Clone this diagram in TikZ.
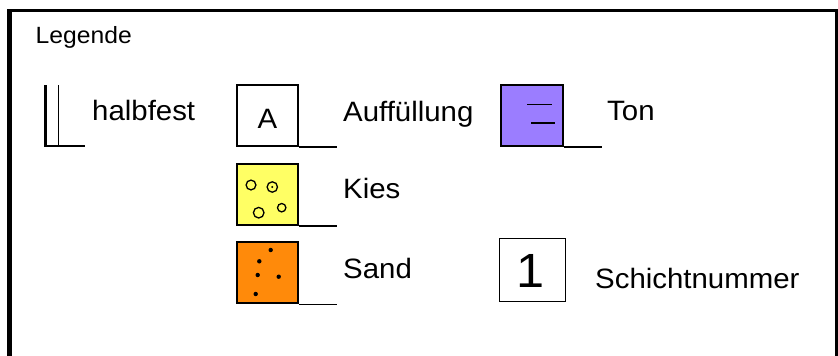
\documentclass[tikz,border=0pt]{standalone}
\usepackage{fontspec}
\setmainfont{Liberation Sans}[FakeStretch=1.05]
\usetikzlibrary{positioning,calc}
\definecolor{tonviolet}{RGB}{155,125,255}
\definecolor{kiesyellow}{RGB}{255,255,100}
\definecolor{sandorange}{RGB}{255,138,10}
\tikzset{
    lbl/.style={anchor=base west, inner sep=0pt, font=\fontsize{28}{34}\selectfont},
    soilbox/.style={draw, rectangle, line width=2pt, inner sep=0pt, minimum width=61.6pt, minimum height=61pt}
}

\begin{document}
\begin{tikzpicture}[x=1pt, y=-1pt]
    \useasboundingbox (0,0) rectangle (838,356);
    % frame
    \draw[line width=3pt] (9.5,356) |- (836.5,10.5);
    \draw[line width=5pt] (9.5,9) -- (9.5,356);
    \draw[line width=2.5pt] (836.7,9) -- (836.7,356);
    \node[anchor=base west, inner sep=0pt, font=\fontsize{23.5}{28}\selectfont] (legende) at (35.5,43) {Legende};

    % halbfest
    \draw[line width=2.5pt] (45.5,85) -- (45.5,147);
    \draw[line width=1pt] (58,85) -- (58,147);
    \draw[line width=1.2pt] (45,146) -- (85,146);
    \node[lbl] (halbfest) at (92,120) {halbfest};

    % boxes
    \node[soilbox, fill=white] (auff) at (267.5,115.5) {};
    \node[soilbox, fill=tonviolet] (ton) at (532.2,115.5) {};
    \node[soilbox, fill=kiesyellow] (kies) at (267.5,194.5) {};
    \node[soilbox, fill=sandorange] (sand) at (267.5,272.8) {};
    \foreach \b in {auff,ton,kies,sand}
        \draw[line width=1.2pt] (\b.south east) -- ++(38,0);
    \node[anchor=base, inner sep=0pt, font=\fontsize{28}{34}\selectfont] (auffA) at ($(auff)+(0,12.5)$) {A};

    % ton lines
    \draw[line width=1.3pt] ($(ton)+(-5,-11)$) -- ++(24.5,0);
    \draw[line width=1.3pt] ($(ton)+(-1.2,7.5)$) -- ++(24,0);
    % kies circles
    \foreach \dx/\dy/\r in {-16.5/-9.5/4.9, 4.8/-7.5/5.2, -8.8/18.2/5.3, 14.2/13.2/4.2}
        \draw[line width=1.3pt] ($(kies)+(\dx,\dy)$) circle (\r);
    \fill ($(kies)+(4.8,-7.5)$) circle (1.1);
    % sand dots
    \foreach \dx/\dy in {3.2/-22.8, -8.2/-11.5, -9.8/2.2, 11.2/3.9, -11.8/21.2}
        \fill ($(sand)+(\dx,\dy)$) circle (2.2);

    \node[lbl] (auffl) at (343,121) {Auffüllung};
    \node[lbl] (tonl) at (607,120) {Ton};
    \node[lbl] (kiesl) at (343,198) {Kies};
    \node[lbl] (sandl) at (343,278) {Sand};

    % Schichtnummer
    \node[draw, rectangle, line width=1pt, minimum width=65.7pt, minimum height=62.7pt, inner sep=0pt] (nr) at (532.8,270.3) {};
    \node[anchor=base, inner sep=0pt, font=\fontsize{48}{58}\selectfont] (nr1) at ($(nr)+(-2,17.5)$) {1};
    \node[lbl] (nrl) at (595,288) {Schichtnummer};
\end{tikzpicture}
\end{document}
